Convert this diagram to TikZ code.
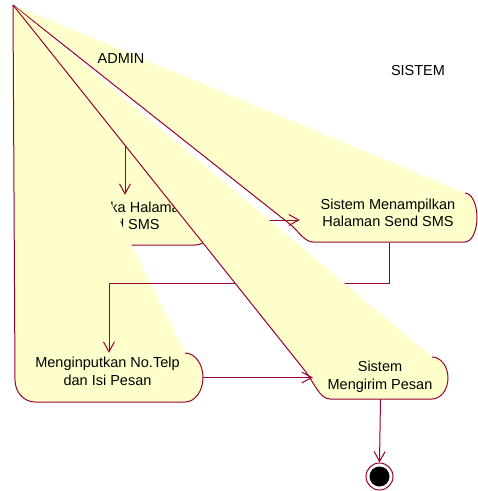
\documentclass[tikz,border=0pt]{standalone}
\usepackage{fontspec}
\setmainfont{Liberation Sans}
\usetikzlibrary{arrows.meta}
\definecolor{actfill}{RGB}{255,255,204}
\definecolor{actline}{RGB}{153,0,51}
\begin{document}
\begin{tikzpicture}[x=1pt,y=-1pt,
  every node/.style={font=\fontsize{14.5}{17.5}\selectfont, inner sep=0pt, text=black},
  acttext/.style={align=center},
  actbox/.style={draw=none, rectangle, inner sep=0pt},
  actedge/.style={draw=actline, line width=1pt},
  flow/.style={draw=actline, line width=1pt, -{Straight Barb[length=10pt,width=11pt]}},
  finalstate/.style={circle, draw=actline, fill=white, line width=1pt, minimum size=27pt, inner sep=0pt}]
\useasboundingbox (0,0) rectangle (478,491);
\coordinate (P) at (13,5);

% original activity boxes (invisible, used for connectors)
\node[actbox, minimum width=150pt, minimum height=50pt] (s1) at (140,220) {};
\node[actbox, minimum width=178pt, minimum height=50pt] (s2) at (389,217.5) {};
\node[actbox, minimum width=188pt, minimum height=49pt] (s3) at (109,377.5) {};
\node[actbox, minimum width=135pt, minimum height=42pt] (s4) at (380.5,378) {};

% shape 1
\fill[actfill] (P) -- (195,192) arc[start angle=-90,end angle=90,x radius=20,y radius=26.5]
  -- (85,245) arc[start angle=90,end angle=180,x radius=20,y radius=20] -- cycle;
\draw[actedge] (195,192) arc[start angle=-90,end angle=90,x radius=20,y radius=26.5]
  -- (85,245) arc[start angle=90,end angle=180,x radius=20,y radius=20] -- (P);
\node[acttext] (t1) at (125,216) {Membuka Halaman\\Send SMS};

% initial flow (start hidden)
\coordinate (init) at (125,120);
\draw[flow] (init) -- (init |- s1.north);

% shape 2
\fill[actfill] (P) -- (465,193) arc[start angle=-90,end angle=90,x radius=12,y radius=24.5]
  -- (313,242) .. controls (305,242) and (299,232) .. (291,225) -- cycle;
\draw[actedge] (465,193) arc[start angle=-90,end angle=90,x radius=12,y radius=24.5]
  -- (313,242) .. controls (305,242) and (299,232) .. (291,225) -- (P);
\node[acttext] (t2) at (388,212.6) {Sistem Menampilkan\\Halaman Send SMS};

\draw[flow] (s1.east) -- (s1.east -| s2.west);

% shape 3
\fill[actfill] (P) -- (185,353) arc[start angle=-90,end angle=90,x radius=18,y radius=24.5]
  -- (35,402) arc[start angle=90,end angle=180,x radius=20,y radius=22] -- cycle;
\draw[actedge] (185,353) arc[start angle=-90,end angle=90,x radius=18,y radius=24.5]
  -- (35,402) arc[start angle=90,end angle=180,x radius=20,y radius=22] -- (P);
\node[acttext] (t3) at (107.5,371.3) {Menginputkan No.Telp\\dan Isi Pesan};

\draw[flow] (s2.south) -- ++(0,41) -| (s3.north);

% shape 4
\fill[actfill] (P) -- (432,357) arc[start angle=-90,end angle=90,x radius=16,y radius=21]
  -- (330,399) .. controls (320,399) and (314,383) .. (306,372) -- cycle;
\draw[actedge] (432,357) arc[start angle=-90,end angle=90,x radius=16,y radius=21]
  -- (330,399) .. controls (320,399) and (314,383) .. (306,372) -- (P);
\node[acttext] (t4) at (380,376.6) {Sistem\\Mengirim Pesan};

\draw[flow] (s3.east) -- (s3.east -| s4.west);

% final state
\node[finalstate] (fin) at (379.5,476.5) {};
\fill[black] (fin.center) circle (10);
\draw[flow] (s4.south) -- (fin.north);

% swimlane labels
\node (admin) at (121,59) {ADMIN};
\node (sistem) at (418,70.5) {SISTEM};
\end{tikzpicture}
\end{document}
